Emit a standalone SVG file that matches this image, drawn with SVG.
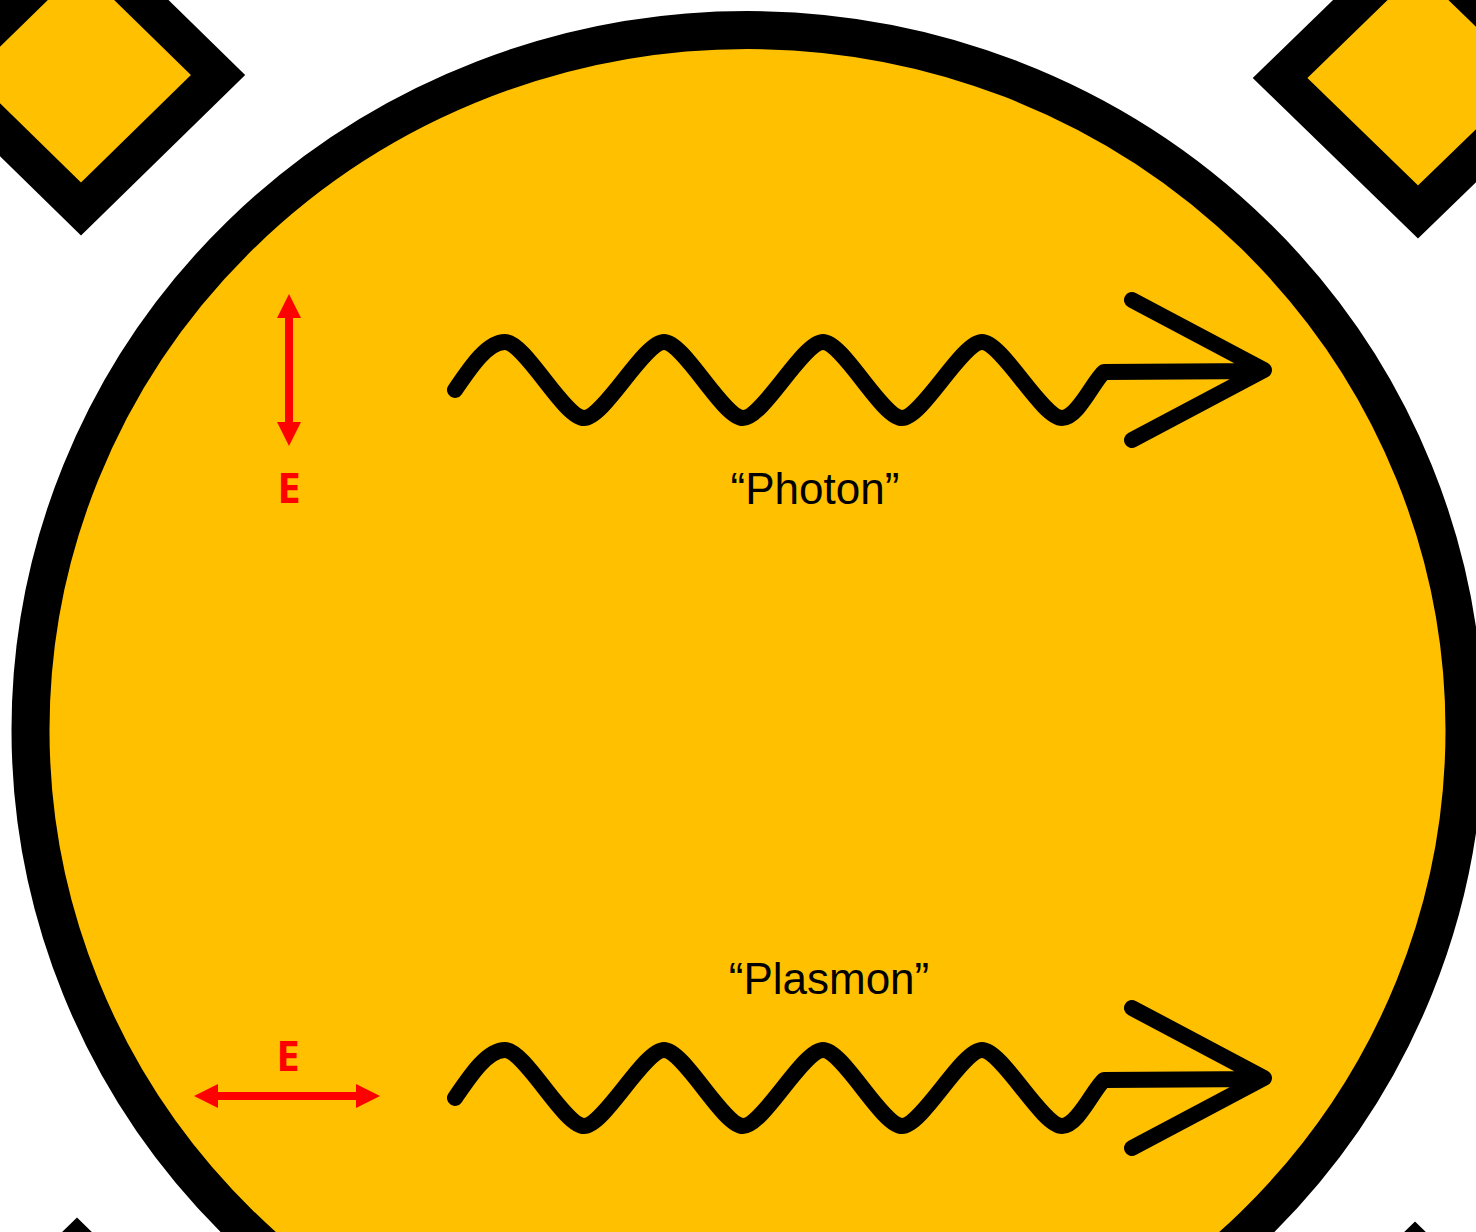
<svg xmlns="http://www.w3.org/2000/svg" width="1476" height="1232" viewBox="0 0 1476 1232">
  <style>
    .gold { fill: #FFC000; stroke: #000; stroke-width: 38; stroke-linejoin: miter; }
    .wave { fill: none; stroke: #000; stroke-width: 16; stroke-linecap: round; stroke-linejoin: round; }
    .efield { fill: none; stroke: #FF0000; stroke-width: 8; }
    .elabel { font-family: "Open Sans", "Liberation Sans", sans-serif; font-weight: 700; font-size: 42px; fill: #FF0000; text-anchor: middle; }
    .label { font-family: "Liberation Sans", Arial, sans-serif; font-size: 44px; fill: #000; text-anchor: middle; }
  </style>
  <defs>
    <marker id="redhead" viewBox="0 0 24 24" markerWidth="24" markerHeight="24" refX="1" refY="12" orient="auto-start-reverse" markerUnits="userSpaceOnUse">
      <path d="M0,0 L24,12 L0,24 Z" fill="#FF0000"/>
    </marker>
    <path id="wavepath" d="M 455 390 C 470 368, 487 342, 505 342 C 525 342, 564 418, 584 418 C 604 418, 644 342, 664 342 C 684 342, 723 418, 743 418 C 763 418, 803 342, 823 342 C 843 342, 882 418, 902 418 C 922 418, 962 342, 982 342 C 1002 342, 1042 418, 1062 418 C 1078 418, 1094 380, 1104 372 L 1262 371 M 1132 300 L 1264 370 L 1132 440"/>
  </defs>

  <g id="diamond-top-left">
    <polygon class="gold" points="81,-59 218,75 81,209 -56,75"/>
  </g>
  <g id="diamond-top-right">
    <polygon class="gold" points="1418,-56 1556,78 1418,212 1280,78"/>
  </g>
  <g id="diamond-bottom-left">
    <polygon class="gold" points="77,1244 214,1378 77,1512 -60,1378"/>
  </g>
  <g id="diamond-bottom-right">
    <polygon class="gold" points="1415,1248 1552,1382 1415,1516 1278,1382"/>
  </g>

  <g id="particle">
    <ellipse class="gold" cx="747.5" cy="730" rx="717" ry="700"/>
  </g>

  <g id="photon">
    <use href="#wavepath" class="wave"/>
    <line class="efield" x1="289" y1="317" x2="289" y2="423" marker-start="url(#redhead)" marker-end="url(#redhead)"/>
    <text class="elabel" x="289" y="503">E</text>
    <text class="label" x="815" y="504">“Photon”</text>
  </g>

  <g id="plasmon">
    <use href="#wavepath" class="wave" transform="translate(0,708)"/>
    <line class="efield" x1="217" y1="1096" x2="357" y2="1096" marker-start="url(#redhead)" marker-end="url(#redhead)"/>
    <text class="elabel" x="288" y="1071">E</text>
    <text class="label" x="829" y="994">“Plasmon”</text>
  </g>
</svg>
